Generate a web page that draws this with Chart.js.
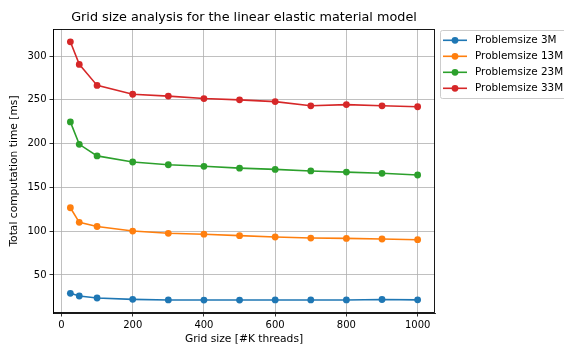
<!DOCTYPE html>
<html><head><meta charset="utf-8">
<script src="https://cdn.jsdelivr.net/npm/chart.js@4"></script>
<style>html,body{margin:0;padding:0;background:#fff}#wrap{width:564px;height:345px}</style>
</head><body><div id="wrap"><canvas id="c" width="564" height="345"></canvas></div>
<script>
const gridSizes = [25, 50, 100, 200, 300, 400, 500, 600, 700, 800, 900, 1000];
const seriesNames = ["Problemsize 3M", "Problemsize 13M", "Problemsize 23M", "Problemsize 33M"];
const size3M  = [29.1, 26.0, 23.7, 22.2, 21.5, 21.4, 21.4, 21.5, 21.5, 21.5, 22.0, 21.6];
const size13M = [126.8, 110.1, 105.4, 100.2, 97.6, 96.6, 94.9, 93.4, 92.2, 91.8, 91.1, 90.3];
const size23M = [224.8, 199.2, 186.0, 179.0, 175.9, 174.1, 172.0, 170.6, 168.8, 167.5, 166.1, 164.2];
const size33M = [316.3, 290.5, 266.5, 256.4, 254.3, 251.5, 250.0, 248.0, 243.2, 244.6, 243.2, 242.1];
const seriesColors = ["#1f77b4", "#ff7f0e", "#2ca02c", "#d62728"];
const xTicks = [0, 200, 400, 600, 800, 1000];
const yTicks = [50, 100, 150, 200, 250, 300];
const titleText = "Grid size analysis for the linear elastic material model";
const xLabel = "Grid size [#K threads]";
const yLabel = "Total computation time [ms]";

const FONT = "'DejaVu Sans', sans-serif";
const allSeries = [size3M, size13M, size23M, size33M];

const datasets = allSeries.map((vals, i) => ({
  label: seriesNames[i],
  data: gridSizes.map((g, j) => ({x: g, y: vals[j]})),
  borderColor: seriesColors[i],
  backgroundColor: seriesColors[i],
  pointBackgroundColor: seriesColors[i],
  pointBorderColor: seriesColors[i],
  borderWidth: 1.6,
  pointRadius: 3.4,
  pointBorderWidth: 0,
  tension: 0,
  fill: false
}));

const decor = {
  id: 'decor',
  afterDraw(chart) {
    const ctx = chart.ctx, a = chart.chartArea;
    ctx.save();
    // frame
    ctx.strokeStyle = '#000';
    ctx.lineWidth = 0.9;
    ctx.strokeRect(Math.round(a.left) + 0.5, Math.round(a.top) + 0.5, Math.round(a.right - a.left) - 1, Math.round(a.bottom - a.top) - 1);
    // title
    ctx.fillStyle = '#000';
    ctx.font = "12.8px " + FONT;
    ctx.textAlign = 'center';
    ctx.textBaseline = 'middle';
    ctx.fillText(titleText, (a.left + a.right) / 2, 18);
    // axis labels
    ctx.font = "10.7px " + FONT;
    ctx.fillText(xLabel, (a.left + a.right) / 2, 339);
    ctx.save();
    ctx.translate(14, (a.top + a.bottom) / 2);
    ctx.rotate(-Math.PI / 2);
    ctx.fillText(yLabel, 0, 0);
    ctx.restore();
    // legend
    const lx = 440, ly = 30, lw = 140, lh = 68;
    ctx.fillStyle = 'rgba(255,255,255,0.8)';
    ctx.strokeStyle = '#cccccc';
    ctx.lineWidth = 1;
    ctx.beginPath();
    if (ctx.roundRect) ctx.roundRect(lx + 0.5, ly + 0.5, lw, lh, 2); else ctx.rect(lx + 0.5, ly + 0.5, lw, lh);
    ctx.fill();
    ctx.stroke();
    chart.data.datasets.forEach((ds, i) => {
      const y = 40.3 + i * 16;
      ctx.strokeStyle = ds.borderColor;
      ctx.lineWidth = 1.6;
      ctx.beginPath();
      ctx.moveTo(443, y);
      ctx.lineTo(467, y);
      ctx.stroke();
      ctx.fillStyle = ds.borderColor;
      ctx.beginPath();
      ctx.arc(455, y, 3.4, 0, Math.PI * 2);
      ctx.fill();
      ctx.fillStyle = '#000';
      ctx.font = "10.4px " + FONT;
      ctx.textAlign = 'left';
      ctx.textBaseline = 'middle';
      ctx.fillText(ds.label, 475, y);
    });
    ctx.restore();
  }
};

new Chart(document.getElementById('c'), {
  type: 'line',
  data: {datasets},
  options: {
    responsive: false,
    animation: false,
    devicePixelRatio: 1,
    layout: {padding: {top: 29, right: 129, left: 0, bottom: 0}},
    plugins: {legend: {display: false}, title: {display: false}, tooltip: {enabled: false}},
    scales: {
      x: {
        type: 'linear',
        min: -23.75, max: 1048.75,
        afterFit(s) { s.height = 32; },
        afterBuildTicks(s) { s.ticks = xTicks.map(v => ({value: v})); },
        grid: {color: '#b0b0b0', lineWidth: 0.8, drawTicks: true, tickLength: 3.5, tickColor: '#000', tickWidth: 0.8},
        border: {display: true, color: '#000', width: 0.9},
        ticks: {color: '#000', font: {family: FONT, size: 10}, padding: 3, maxRotation: 0, autoSkip: false, callback: v => String(v)}
      },
      y: {
        type: 'linear',
        min: 6.6, max: 330.9,
        afterFit(s) { s.width = 53; },
        afterBuildTicks(s) { s.ticks = yTicks.map(v => ({value: v})); },
        grid: {color: '#b0b0b0', lineWidth: 0.8, drawTicks: true, tickLength: 3.5, tickColor: '#000', tickWidth: 0.8},
        border: {display: true, color: '#000', width: 0.9},
        ticks: {color: '#000', font: {family: FONT, size: 10}, padding: 3, autoSkip: false, callback: v => String(v)}
      }
    }
  },
  plugins: [decor]
});
</script>
</body></html>
